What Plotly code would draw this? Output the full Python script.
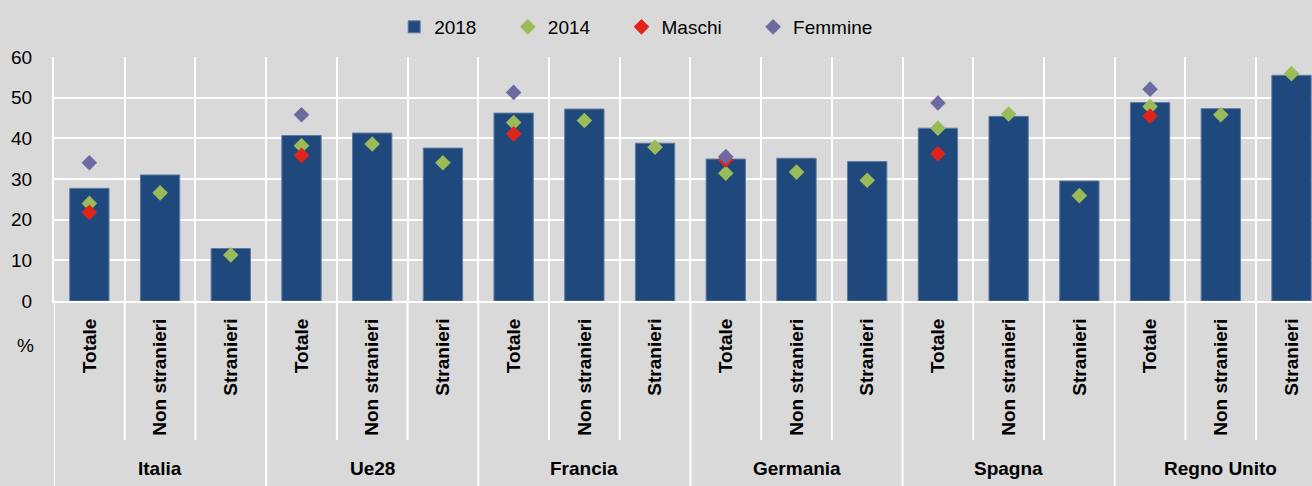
import plotly.graph_objects as go

groups = ["Italia", "Ue28", "Francia", "Germania", "Spagna", "Regno Unito"]
subgroups = ["Totale", "Non stranieri", "Stranieri"]
v2018 = [27.7, 31.0, 12.9, 40.7, 41.3, 37.6, 46.2, 47.2, 38.8,
         34.9, 35.1, 34.3, 42.5, 45.4, 29.5, 48.8, 47.3, 55.5]
v2014 = [24.0, 26.6, 11.3, 38.2, 38.6, 34.0, 43.9, 44.4, 37.8,
         31.4, 31.7, 29.7, 42.5, 46.0, 25.9, 47.8, 45.8, 55.9]
maschi = [21.8, None, None, 35.8, None, None, 41.1, None, None,
          34.7, None, None, 36.2, None, None, 45.5, None, None]
femmine = [34.0, None, None, 45.8, None, None, 51.3, None, None,
           35.5, None, None, 48.7, None, None, 52.1, None, None]
y_ticks = [0, 10, 20, 30, 40, 50, 60]

labels = [s for g in groups for s in subgroups]
xs = list(range(len(labels)))
n_sub = len(subgroups)

FONT = "Liberation Sans, Arial, sans-serif"
FS = 19
BG = "#d9d9d9"
NB = "\u00a0"

fig = go.Figure()
fig.add_trace(go.Bar(x=xs, y=v2018, name="2018" + NB * 5, width=0.556,
                     marker=dict(color="#1f497d", line=dict(color="#5d7ba3", width=1))))
fig.add_trace(go.Scatter(x=xs, y=v2014, name="2014" + NB * 5, mode="markers",
                         marker=dict(symbol="diamond", size=12, color="#9bbb59")))
fig.add_trace(go.Scatter(x=xs, y=maschi, name="Maschi" + NB * 5, mode="markers",
                         marker=dict(symbol="diamond", size=12, color="#e2231a")))
fig.add_trace(go.Scatter(x=xs, y=femmine, name="Femmine", mode="markers",
                         marker=dict(symbol="diamond", size=12, color="#6b6ba1")))

shapes = []
bounds = [i - 0.5 for i in range(len(labels) + 1)]
for b in bounds:
    is_group = round(b + 0.5) % n_sub == 0
    shapes.append(dict(type="line", xref="x", yref="paper", x0=b, x1=b,
                       y0=0, y1=-0.76 if is_group else -0.57,
                       line=dict(color="white", width=2), layer="above"))

annotations = []
for gi, g in enumerate(groups):
    annotations.append(dict(x=gi * n_sub + (n_sub - 1) / 2, y=-0.685, xref="x", yref="paper",
                            text="<b>%s</b>" % g, showarrow=False, yanchor="middle",
                            font=dict(family=FONT, size=FS, color="black")))
annotations.append(dict(x=0, y=-0.184, xref="paper", yref="paper", text="%",
                        showarrow=False, xanchor="right", xshift=-18, yanchor="middle",
                        font=dict(family=FONT, size=FS, color="black")))

fig.update_layout(
    width=1312, height=486,
    margin=dict(l=54, r=0, t=57, b=185, autoexpand=False),
    paper_bgcolor=BG, plot_bgcolor=BG,
    font=dict(family=FONT, size=FS, color="black"),
    barmode="overlay",
    showlegend=True,
    legend=dict(orientation="h", x=0.2704, y=1.123, xanchor="left", yanchor="middle",
                bgcolor="rgba(0,0,0,0)", font=dict(family=FONT, size=FS, color="black"),
                itemwidth=30, traceorder="normal"),
    shapes=shapes,
    annotations=annotations,
)
fig.update_xaxes(range=[-0.5, 17.29], tickmode="array", tickvals=xs,
                 ticktext=["<b>%s</b>" % l for l in labels], tickangle=-90,
                 showgrid=False, zeroline=False, automargin=False,
                 showline=True, linecolor="white", linewidth=2,
                 ticks="outside", ticklen=8, tickcolor="rgba(0,0,0,0)",
                 tickfont=dict(family=FONT, size=FS, color="black"),
                 minor=dict(tickmode="linear", tick0=-0.5, dtick=1, showgrid=True,
                            gridcolor="white", gridwidth=2, ticks=""))
fig.update_yaxes(range=[0, 60], tickmode="array", tickvals=y_ticks,
                 showgrid=True, gridcolor="white", gridwidth=2, zeroline=False,
                 automargin=False,
                 showline=True, linecolor="white", linewidth=2,
                 ticks="outside", ticklen=16, tickcolor="rgba(0,0,0,0)",
                 tickfont=dict(family=FONT, size=FS, color="black"))

fig.write_html("out.html", config={"displayModeBar": False},
               post_script="document.body.style.margin='0';document.body.style.background='%s';" % BG)
